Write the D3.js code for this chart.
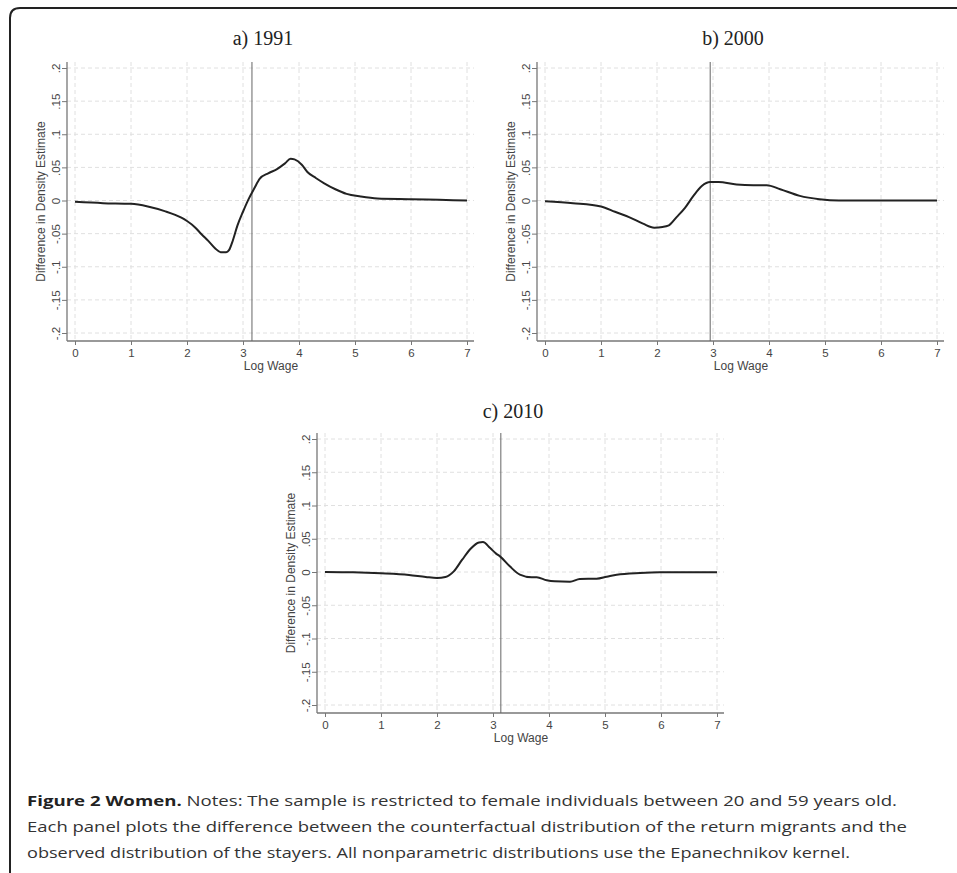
<!DOCTYPE html>
<html><head><meta charset="utf-8">
<script src="https://cdn.jsdelivr.net/npm/d3@7"></script>
<style>body{margin:0;background:#fff} svg{display:block}</style>
</head><body><svg id="c" width="957" height="873"></svg>
<script>
// ---------- data ----------
const xTicks = [0, 1, 2, 3, 4, 5, 6, 7];
const yTicks = [-0.2, -0.15, -0.1, -0.05, 0, 0.05, 0.1, 0.15, 0.2];
const yTickLabels = ["-.2", "-.15", "-.1", "-.05", "0", ".05", ".1", ".15", ".2"];
const panelTitles = ["a) 1991", "b) 2000", "c) 2010"];
const xLabel = "Log Wage";
const yLabel = "Difference in Density Estimate";
const cutoffs = [3.16, 2.95, 3.14];

const wage1991 = [0, 0.5, 1.0, 1.3, 1.6, 1.9, 2.0, 2.15, 2.26, 2.38, 2.5, 2.6, 2.7, 2.75, 2.82, 2.9, 3.0, 3.1, 3.2, 3.3, 3.45, 3.6, 3.75, 3.85, 3.92, 4.05, 4.15, 4.3, 4.45, 4.65, 4.85, 5.1, 5.4, 6.0, 6.5, 7.0];
const diff1991 = [-0.002, -0.004, -0.005, -0.009, -0.016, -0.026, -0.031, -0.041, -0.051, -0.061, -0.072, -0.078, -0.078, -0.075, -0.060, -0.038, -0.017, 0.002, 0.018, 0.033, 0.041, 0.047, 0.056, 0.063, 0.062, 0.054, 0.043, 0.034, 0.026, 0.017, 0.010, 0.006, 0.003, 0.002, 0.001, 0.000];

const wage2000 = [0, 0.5, 1.0, 1.25, 1.5, 1.75, 1.95, 2.1, 2.2, 2.35, 2.5, 2.65, 2.8, 2.95, 3.1, 3.42, 3.72, 3.96, 4.2, 4.55, 4.9, 5.25, 6.0, 7.0];
const diff2000 = [-0.001, -0.004, -0.009, -0.017, -0.025, -0.035, -0.041, -0.040, -0.038, -0.025, -0.011, 0.007, 0.022, 0.028, 0.028, 0.024, 0.023, 0.023, 0.017, 0.007, 0.002, 0, 0, 0];

const wage2010 = [0, 0.5, 1.0, 1.5, 1.8, 2.0, 2.15, 2.3, 2.45, 2.6, 2.75, 2.82, 2.95, 3.05, 3.125, 3.3, 3.48, 3.69, 3.78, 3.96, 4.1, 4.375, 4.55, 4.85, 5.03, 5.21, 5.625, 5.98, 7.0];
const diff2010 = [0, -0.0005, -0.002, -0.0045, -0.0075, -0.009, -0.0075, 0.001, 0.0185, 0.035, 0.0445, 0.045, 0.036, 0.028, 0.0235, 0.0085, -0.004, -0.008, -0.008, -0.0125, -0.014, -0.0145, -0.0105, -0.01, -0.007, -0.004, -0.0015, -0.0005, -0.0005];

const captionBold = "Figure 2 Women.";
const captionLines = [
  " Notes: The sample is restricted to female individuals between 20 and 59 years old.",
  "Each panel plots the difference between the counterfactual distribution of the return migrants and the",
  "observed distribution of the stayers. All nonparametric distributions use the Epanechnikov kernel."
];

// ---------- drawing ----------
const svg = d3.select("#c");

// frame
svg.append("path")
  .attr("d", "M10,880 L10,18 Q10,8 20,8 L960,8")
  .attr("fill", "none").attr("stroke", "#222").attr("stroke-width", 2);

const series = [
  { x: wage1991, y: diff1991 },
  { x: wage2000, y: diff2000 },
  { x: wage2010, y: diff2010 }
];
const layouts = [
  { xr: [75, 467], yr: [333, 68], titleY: 45 },
  { xr: [545, 937], yr: [333, 68], titleY: 45 },
  { xr: [325, 717], yr: [705, 439], titleY: 418 }
];

const tickFont = "'Liberation Sans', Arial, sans-serif";

series.forEach((s, i) => {
  const L = layouts[i];
  const x = d3.scaleLinear().domain([0, 7]).range(L.xr);
  const y = d3.scaleLinear().domain([-0.2, 0.2]).range(L.yr);
  const axX = x(0) - 8, axY = y(-0.2) + 8;
  const right = x(7) + 7, top = y(0.2) - 6;
  const g = svg.append("g");

  // grid
  g.append("g").selectAll("line").data(xTicks).join("line")
    .attr("x1", d => x(d)).attr("x2", d => x(d)).attr("y1", top).attr("y2", axY)
    .attr("stroke", "#e0e0e0").attr("stroke-width", 1).attr("stroke-dasharray", "4,3");
  g.append("g").selectAll("line").data(yTicks).join("line")
    .attr("x1", axX).attr("x2", right).attr("y1", d => y(d)).attr("y2", d => y(d))
    .attr("stroke", "#e0e0e0").attr("stroke-width", 1).attr("stroke-dasharray", "4,3");

  // x axis
  const gx = g.append("g").attr("transform", `translate(0,${axY})`)
    .call(d3.axisBottom(x).tickValues(xTicks).tickFormat(d3.format("d")).tickSize(4).tickPadding(4).tickSizeOuter(0));
  gx.select(".domain").remove();
  gx.selectAll(".tick line").attr("stroke", "#777").attr("stroke-width", 1);
  gx.selectAll(".tick text").attr("fill", "#444").style("font-family", tickFont).style("font-size", "11.5px");
  g.append("line").attr("x1", axX).attr("x2", right).attr("y1", axY).attr("y2", axY)
    .attr("stroke", "#777").attr("stroke-width", 1.3);

  // y axis
  const gy = g.append("g").attr("transform", `translate(${axX},0)`)
    .call(d3.axisLeft(y).tickValues(yTicks).tickFormat((d, k) => yTickLabels[k]).tickSize(5).tickSizeOuter(0));
  gy.select(".domain").remove();
  gy.selectAll(".tick line").attr("stroke", "#777").attr("stroke-width", 1);
  gy.selectAll(".tick text")
    .attr("x", 0).attr("y", -7).attr("dy", 0)
    .attr("transform", "rotate(-90)")
    .attr("text-anchor", "middle")
    .attr("fill", "#444").style("font-family", tickFont).style("font-size", "11.5px");
  g.append("line").attr("x1", axX).attr("x2", axX).attr("y1", top).attr("y2", axY)
    .attr("stroke", "#777").attr("stroke-width", 1.3);

  // axis titles
  g.append("text").attr("x", (x(0) + x(7)) / 2).attr("y", axY + 29)
    .attr("text-anchor", "middle").attr("fill", "#444")
    .style("font-family", tickFont).style("font-size", "12px").text(xLabel);
  const yl = axX - 22, ym = (top + axY) / 2;
  g.append("text").attr("transform", `translate(${yl},${ym}) rotate(-90)`)
    .attr("text-anchor", "middle").attr("fill", "#444")
    .style("font-family", tickFont).style("font-size", "12px").text(yLabel);

  // vertical reference line
  g.append("line").attr("x1", x(cutoffs[i])).attr("x2", x(cutoffs[i]))
    .attr("y1", top).attr("y2", axY).attr("stroke", "#666").attr("stroke-width", 1);

  // curve
  const pts = s.x.map((v, k) => [v, s.y[k]]);
  g.append("path").datum(pts)
    .attr("d", d3.line().x(d => x(d[0])).y(d => y(d[1])).curve(d3.curveMonotoneX))
    .attr("fill", "none").attr("stroke", "#222").attr("stroke-width", 2);

  // panel title
  g.append("text").attr("x", (x(0) + x(7)) / 2 - 8).attr("y", L.titleY)
    .attr("text-anchor", "middle").attr("fill", "#222")
    .style("font-family", "'Liberation Serif', 'Times New Roman', serif").style("font-size", "20px")
    .text(panelTitles[i]);
});

// caption
const capFont = "'Open Sans', sans-serif";
const capY = [806, 832, 858];
const t1 = svg.append("text").attr("x", 27).attr("y", capY[0])
  .style("font-family", capFont).style("font-size", "15px").attr("fill", "#333");
t1.append("tspan").attr("font-weight", "bold").attr("fill", "#222").text(captionBold);
t1.append("tspan").text(captionLines[0]);
const t2 = svg.append("text").attr("x", 27).attr("y", capY[1])
  .style("font-family", capFont).style("font-size", "15px").attr("fill", "#333").text(captionLines[1]);
const t3 = svg.append("text").attr("x", 27).attr("y", capY[2])
  .style("font-family", capFont).style("font-size", "15px").attr("fill", "#333").text(captionLines[2]);
t1.attr("textLength", 870).attr("lengthAdjust", "spacingAndGlyphs");
t2.attr("textLength", 880).attr("lengthAdjust", "spacingAndGlyphs");
t3.attr("textLength", 823).attr("lengthAdjust", "spacingAndGlyphs");
</script>
</body></html>
